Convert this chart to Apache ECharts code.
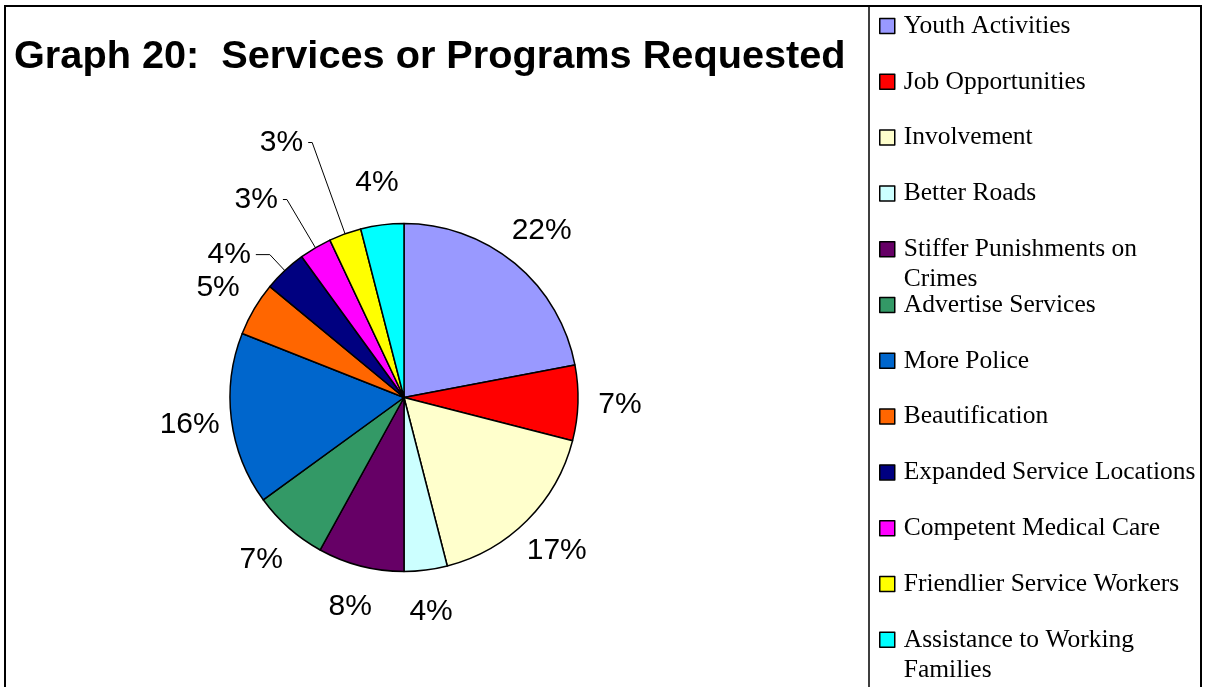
<!DOCTYPE html>
<html>
<head>
<meta charset="utf-8">
<script src="https://cdn.jsdelivr.net/npm/echarts@6/dist/echarts.min.js"></script>
<style>
  html, body { margin: 0; padding: 0; background: #fff; }
  #chart { width: 1207px; height: 687px; }
</style>
</head>
<body>
<div id="chart"></div>
<script>
// Requested services and their share of responses (percent)
const categories = [
  'Youth Activities',
  'Job Opportunities',
  'Involvement',
  'Better Roads',
  'Stiffer Punishments on Crimes',
  'Advertise Services',
  'More Police',
  'Beautification',
  'Expanded Service Locations',
  'Competent Medical Care',
  'Friendlier Service Workers',
  'Assistance to Working Families'
];
const percentages = [22, 7, 17, 4, 8, 7, 16, 5, 4, 3, 3, 4];

const sliceColors = [
  '#9999FF', '#FF0000', '#FFFFCC', '#CCFFFF', '#660066', '#339966',
  '#0066CC', '#FF6600', '#000080', '#FF00FF', '#FFFF00', '#00FFFF'
];

// Small slices whose labels are pulled out with a leader line: [length, length2]
const leaderLines = {
  'Expanded Service Locations': [22, 14],
  'Competent Medical Care': [56, 4],
  'Friendlier Service Workers': [97, 4]
};

const pieCenter = [404, 397.5];
const labelFont = { fontFamily: 'Liberation Sans, Arial, sans-serif', fontSize: 30, color: '#000' };

// Legend text metrics
const legendFontSize = 25.5;
const legendFontFamily = 'Liberation Serif';
const legendLineHeight = 30;
const legendTextWidth = 296;
const legendRowStep = 55.8;

// Each legend entry is laid out as three lines: an empty one above, the name,
// and an optional wrapped second line. The block stays centred on the swatch,
// so the swatch lines up with the first line of the name and every entry has
// the same height.
const measureCtx = document.createElement('canvas').getContext('2d');
measureCtx.font = legendFontSize + 'px "' + legendFontFamily + '"';
function wrapLegendName(name) {
  const words = name.split(' ');
  const lines = [];
  let current = '';
  words.forEach(w => {
    const trial = current ? current + ' ' + w : w;
    if (current && measureCtx.measureText(trial).width > legendTextWidth) {
      lines.push(current);
      current = w;
    } else {
      current = trial;
    }
  });
  lines.push(current);
  while (lines.length < 2) lines.push('');
  return ['', lines[0], lines.slice(1).join(' ')].join('\n');
}

const mainData = categories.map((name, i) => {
  const item = { name: name, value: percentages[i], itemStyle: { color: sliceColors[i] } };
  if (leaderLines[name]) {
    item.label = { show: true };
    item.labelLine = { show: true, length: leaderLines[name][0], length2: leaderLines[name][1] };
  }
  return item;
});

// Invisible ring used only to place the plain percentage labels around the pie
const ringData = categories.map((name, i) => ({
  name: name,
  value: percentages[i],
  label: { show: !leaderLines[name] }
}));

const chart = echarts.init(document.getElementById('chart'), null, { renderer: 'canvas' });

chart.setOption({
  backgroundColor: '#fff',
  animation: false,
  title: {
    text: 'Graph 20:  Services or Programs Requested',
    left: 14,
    top: 37,
    padding: 0,
    textStyle: {
      fontFamily: 'Liberation Sans, Arial, sans-serif',
      fontWeight: 'bold',
      fontSize: 39.7,
      color: '#000'
    }
  },
  legend: {
    orient: 'vertical',
    left: 879,
    top: 26 - 1.5 * legendLineHeight,
    height: 900,
    padding: 0,
    itemGap: legendRowStep - 3 * legendLineHeight,
    itemWidth: 15,
    itemHeight: 15,
    icon: 'rect',
    selectedMode: false,
    itemStyle: { borderColor: '#000', borderWidth: 1.5 },
    formatter: wrapLegendName,
    textStyle: {
      fontFamily: legendFontFamily + ', Times New Roman, serif',
      fontSize: legendFontSize,
      color: '#000',
      lineHeight: legendLineHeight,
      padding: [0, 0, 0, 4]
    },
    data: categories
  },
  graphic: [
    {
      type: 'rect',
      silent: true,
      shape: { x: 5, y: 6, width: 1196, height: 700 },
      style: { fill: 'none', stroke: '#000', lineWidth: 2 }
    },
    {
      type: 'rect',
      silent: true,
      shape: { x: 869, y: 6, width: 332, height: 700 },
      style: { fill: 'none', stroke: '#000', lineWidth: 1.5 }
    }
  ],
  series: [
    {
      type: 'pie',
      center: pieCenter,
      radius: 174,
      startAngle: 90,
      clockwise: true,
      avoidLabelOverlap: false,
      itemStyle: { borderColor: '#000', borderWidth: 1.5 },
      label: Object.assign({ show: false, position: 'outside', formatter: '{c}%' }, labelFont),
      labelLine: { show: false, lineStyle: { color: '#000', width: 1 } },
      emphasis: { disabled: true },
      data: mainData
    },
    {
      type: 'pie',
      center: pieCenter,
      radius: [193, 233],
      startAngle: 90,
      clockwise: true,
      silent: true,
      legendHoverLink: false,
      avoidLabelOverlap: false,
      itemStyle: { color: 'rgba(0,0,0,0)', borderWidth: 0 },
      label: Object.assign({ show: true, position: 'inside', formatter: '{c}%' }, labelFont),
      labelLine: { show: false },
      emphasis: { disabled: true },
      data: ringData
    }
  ]
});
</script>
</body>
</html>
